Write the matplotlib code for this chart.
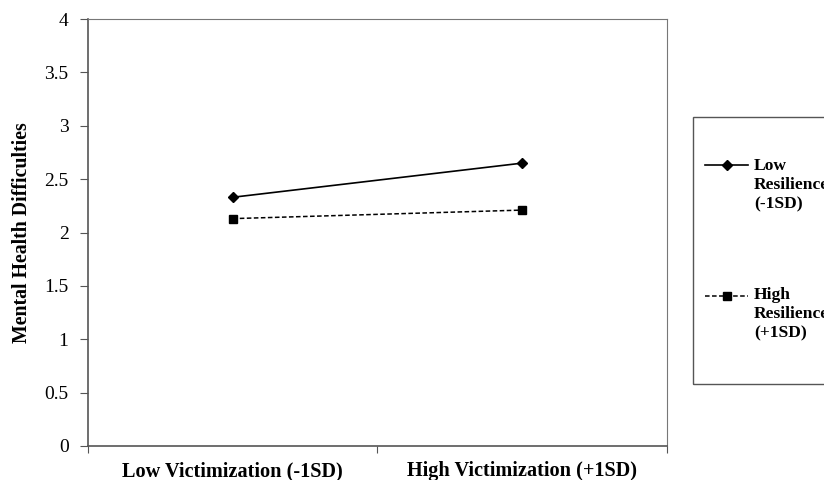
import matplotlib
matplotlib.use('Agg')
import matplotlib.pyplot as plt
from matplotlib.lines import Line2D
from matplotlib.patches import Rectangle

# data
categories = ['Low Victimization (-1SD)', 'High Victimization (+1SD)']
low_res = [2.33, 2.65]
high_res = [2.13, 2.21]
labels = ['Low\nResilience\n(-1SD)', 'High\nResilience\n(+1SD)']
yticks = [0, 0.5, 1, 1.5, 2, 2.5, 3, 3.5, 4]

plt.rcParams['font.family'] = ['Liberation Serif', 'DejaVu Serif']

W, H = 824, 480
fig = plt.figure(figsize=(W/100, H/100), dpi=100)
ax = fig.add_axes([88/W, 1-446/H, (667-88)/W, (446-19)/H])

def fx(px):
    return px / W

def fy(py):
    return 1 - py / H

x = [0.5, 1.5]
sty1 = dict(color='black', lw=1.2, marker='D', ms=5.5)
sty2 = dict(color='black', lw=1.1, ls=(0, (3, 1.6)), marker='s', ms=6)
ax.plot(x, low_res, **sty1)
ax.plot(x, high_res, **sty2)

ax.set_xlim(0, 2)
ax.set_ylim(0, 4)
ax.set_yticks(yticks)
ax.set_yticklabels([('%g' % v) for v in yticks], fontsize=14)
ax.set_xticks([0, 1, 2])
ax.set_xticklabels([])
ax.set_xticks(x, minor=True)
ax.set_xticklabels(categories, minor=True, fontsize=14.6, fontweight='bold')
ax.tick_params(axis='x', which='minor', length=0, pad=11)
ax.tick_params(axis='x', which='major', length=5, color='#555555')
ax.tick_params(axis='y', length=6, color='#555555', pad=8)
ax.set_ylabel('Mental Health Difficulties', fontsize=14.3, fontweight='bold', labelpad=9)

for s in ['top', 'right']:
    ax.spines[s].set_color('#777777')
for s in ['left', 'bottom']:
    ax.spines[s].set_color('#555555')
    ax.spines[s].set_linewidth(1.2)

# legend box, partly outside the figure like in the original
fig.add_artist(Rectangle((fx(693), fy(384)), fx(830) - fx(693), fy(117) - fy(384),
                         transform=fig.transFigure, fill=False,
                         edgecolor='#555555', lw=1.0))
for sty, hy, ty, lab in [(sty1, 165, 158, labels[0]), (sty2, 296, 287, labels[1])]:
    st = dict(sty)
    st.pop('marker')
    ms = st.pop('ms')
    fig.add_artist(Line2D([fx(705), fx(748)], [fy(hy), fy(hy)],
                          transform=fig.transFigure, **st))
    fig.add_artist(Line2D([fx(727)], [fy(hy)], transform=fig.transFigure,
                          color='black', marker=sty['marker'], ms=ms, ls='none'))
    fig.text(fx(754), fy(ty), lab, fontsize=12.6, fontweight='bold',
             va='top', ha='left', linespacing=1.28)

plt.savefig('out.png', dpi=100)
